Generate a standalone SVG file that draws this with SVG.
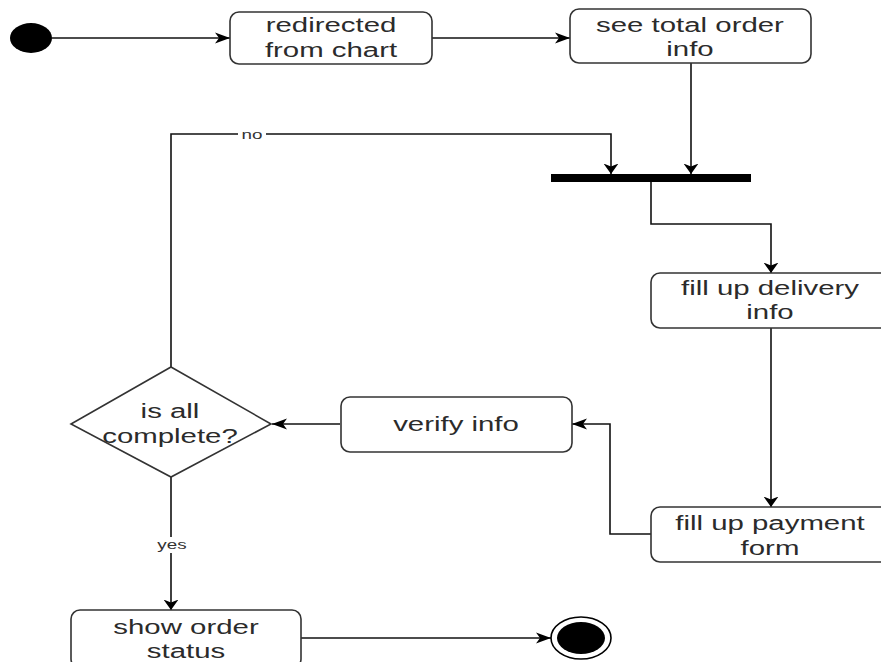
<svg xmlns="http://www.w3.org/2000/svg" width="881" height="662" viewBox="0 0 881 662">
  <style>
    .box { fill: #ffffff; stroke: #333333; stroke-width: 1.6; }
    .lbl { font-family: "Liberation Sans", Arial, sans-serif; font-size: 20px; fill: #2b2b2b; text-anchor: middle; }
    .edge-lbl { font-family: "Liberation Sans", Arial, sans-serif; font-size: 13px; fill: #333333; text-anchor: middle; }
    .wire { fill: none; stroke: #111111; stroke-width: 1.6; }
    .h { marker-end: url(#arrowH); }
    .v { marker-end: url(#arrowV); }
  </style>
  <defs>
    <!-- horizontal flows: long, narrow head -->
    <marker id="arrowH" markerUnits="userSpaceOnUse" markerWidth="16" markerHeight="14" viewBox="0 -7 16 14" refX="15" refY="0" orient="auto">
      <path d="M0,-5.5 L15,0 L0,5.5 L4,0 Z" fill="#000"/>
    </marker>
    <!-- vertical flows: short, wide head -->
    <marker id="arrowV" markerUnits="userSpaceOnUse" markerWidth="12" markerHeight="18" viewBox="0 -9 12 18" refX="10.5" refY="0" orient="auto">
      <path d="M0,-7.5 L10.5,0 L0,7.5 L3,0 Z" fill="#000"/>
    </marker>
  </defs>

  <rect width="881" height="662" fill="#ffffff"/>

  <g id="connectors">
    <path class="wire h" d="M52,38 L230,38"/>
    <path class="wire h" d="M432,38 L570,38"/>
    <path class="wire v" d="M691,63 L691,174"/>
    <path class="wire v" d="M651,182 L651,224 L771,224 L771,273"/>
    <path class="wire v" d="M771,328 L771,507"/>
    <path class="wire h" d="M651,534 L610,534 L610,424 L572,424"/>
    <path class="wire h" d="M340,424 L272,424"/>
    <path class="wire v" d="M171,367 L171,134 L611,134 L611,174"/>
    <path class="wire v" d="M171,477 L171,610"/>
    <path class="wire h" d="M301,638 L551,638"/>
    <!-- guard labels -->
    <rect x="238" y="127" width="28" height="14" fill="#ffffff"/>
    <text class="edge-lbl" transform="translate(252,139) scale(1.45,1)" x="0" y="0">no</text>
    <rect x="155" y="537" width="34" height="16" fill="#ffffff"/>
    <text class="edge-lbl" transform="translate(172,549) scale(1.45,1)" x="0" y="0">yes</text>
  </g>

  <g id="start">
    <ellipse cx="31" cy="38" rx="21" ry="15" fill="#000"/>
  </g>

  <g id="redirected">
    <rect class="box" x="230" y="12" width="202" height="52" rx="9"/>
    <text class="lbl" transform="translate(331,32) scale(1.47,1)">redirected</text>
    <text class="lbl" transform="translate(331,57) scale(1.47,1)">from chart</text>
  </g>

  <g id="see-total">
    <rect class="box" x="570" y="9" width="241" height="54" rx="9"/>
    <text class="lbl" transform="translate(690,32) scale(1.47,1)">see total order</text>
    <text class="lbl" transform="translate(690,56) scale(1.47,1)">info</text>
  </g>

  <g id="join-bar">
    <rect x="551" y="174" width="200" height="8" fill="#000"/>
  </g>

  <g id="delivery">
    <rect class="box" x="651" y="273" width="240" height="55" rx="9"/>
    <text class="lbl" transform="translate(770,295) scale(1.47,1)">fill up delivery</text>
    <text class="lbl" transform="translate(770,319) scale(1.47,1)">info</text>
  </g>

  <g id="payment">
    <rect class="box" x="651" y="507" width="240" height="55" rx="9"/>
    <text class="lbl" transform="translate(770,530) scale(1.47,1)">fill up payment</text>
    <text class="lbl" transform="translate(770,555) scale(1.47,1)">form</text>
  </g>

  <g id="verify">
    <rect class="box" x="341" y="397" width="231" height="55" rx="9"/>
    <text class="lbl" transform="translate(456,431) scale(1.47,1)">verify info</text>
  </g>

  <g id="decision">
    <polygon class="box" points="171,367 271,424 171,477 71,424"/>
    <text class="lbl" transform="translate(170,418) scale(1.47,1)">is all</text>
    <text class="lbl" transform="translate(170,443) scale(1.47,1)">complete?</text>
  </g>

  <g id="show-status">
    <rect class="box" x="71" y="610" width="230" height="58" rx="9"/>
    <text class="lbl" transform="translate(186,634) scale(1.47,1)">show order</text>
    <text class="lbl" transform="translate(186,658) scale(1.47,1)">status</text>
  </g>

  <g id="end">
    <ellipse cx="581" cy="638" rx="30" ry="21" fill="#ffffff" stroke="#000" stroke-width="1.6"/>
    <ellipse cx="581" cy="638" rx="24" ry="16" fill="#000"/>
  </g>
</svg>
